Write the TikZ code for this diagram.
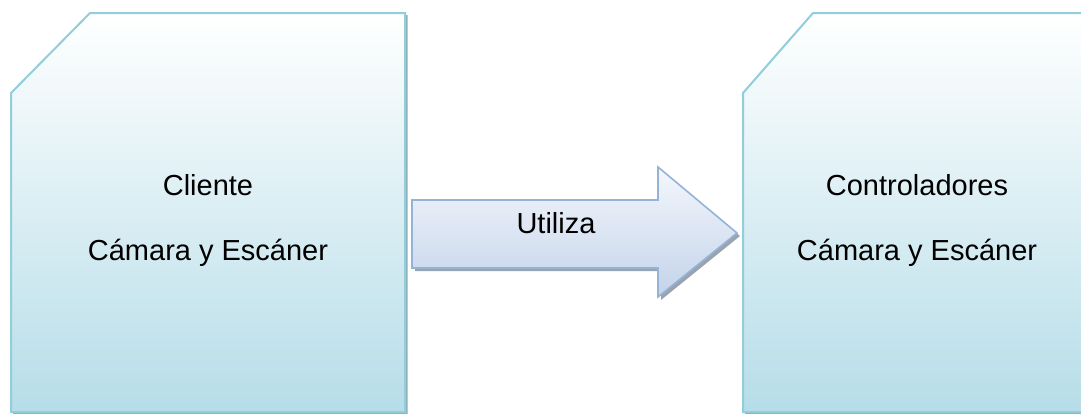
\documentclass[tikz,border=0pt]{standalone}
\usepackage{fontspec}
\setmainfont{Liberation Sans}
\definecolor{boxline}{HTML}{92CDDC}
\definecolor{boxbottom}{HTML}{B6DDE8}
\definecolor{boxshadow}{HTML}{8FAFB8}
\definecolor{arrowline}{HTML}{95B3D7}
\definecolor{arrowtop}{HTML}{F4F7FC}
\definecolor{arrowbottom}{HTML}{C3D3EA}
\definecolor{arrowshadow}{HTML}{9AA3AE}
\begin{document}
\begin{tikzpicture}[x=1pt,y=-1pt,
  lbl/.style={anchor=base,inner sep=0pt,font=\fontsize{29}{35}\selectfont,text=black},
  boxedge/.style={draw=boxline,line width=2pt,line join=miter},
  arrowedge/.style={draw=arrowline,line width=1.6pt,line join=miter}]
\useasboundingbox (0,0) rectangle (1081,413);
\clip (0,0) rectangle (1081,413);

% left panel: shadow, then shaded chamfered box
\fill[boxshadow] (92,15) -- (407.5,15) -- (407.5,414) -- (13,414) -- (13,95) -- cycle;
\shade[top color=white,bottom color=boxbottom,boxedge]
  (90,13) -- (405,13) -- (405,412) -- (11,412) -- (11,93) -- cycle;

% right panel
\fill[boxshadow] (815,15) -- (1139,15) -- (1139,414) -- (745,414) -- (745,95) -- cycle;
\shade[top color=white,bottom color=boxbottom,boxedge]
  (813,13) -- (1137,13) -- (1137,412) -- (743,412) -- (743,93) -- cycle;

% block arrow between the panels
\fill[arrowshadow] (415,203) -- (661,203) -- (661,170) -- (740,236) -- (661,300) -- (661,271) -- (415,271) -- cycle;
\shade[top color=arrowtop,bottom color=arrowbottom,arrowedge]
  (412,200) -- (658,200) -- (658,167) -- (737,233) -- (658,297) -- (658,268) -- (412,268) -- cycle;

% labels
\node[lbl] (cli) at (208,195) {Cliente};
\node[lbl] (cliDev) at (208,260) {Cámara y Escáner};
\node[lbl] (ctl) at (917,195) {Controladores};
\node[lbl] (ctlDev) at (917,260) {Cámara y Escáner};
\node[lbl] (use) at (556,233) {Utiliza};
\end{tikzpicture}
\end{document}
